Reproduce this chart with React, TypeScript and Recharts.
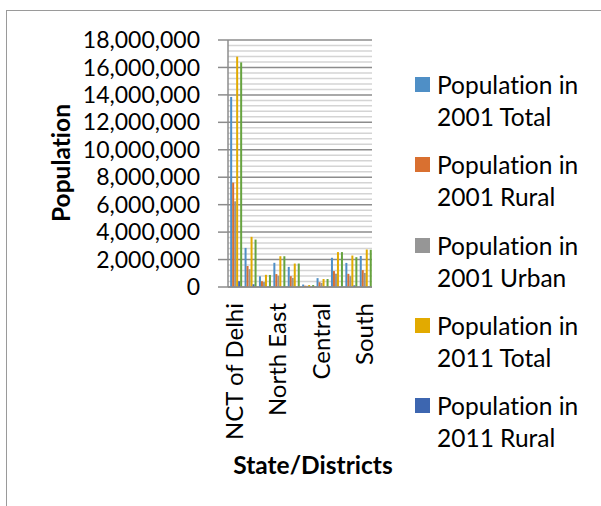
import React from 'react';
import { BarChart, Bar, XAxis, YAxis, CartesianGrid } from 'recharts';

const categories = ['NCT of Delhi', 'North West', 'North', 'North East', 'East', 'New Delhi', 'Central', 'West', 'South West', 'South'];
const total2001 = [13850507, 2847395, 781525, 1763712, 1463583, 179112, 646385, 2128908, 1755041, 2258367];
const rural2001 = [7607234, 1530000, 420000, 940000, 790000, 95000, 350000, 1160000, 960000, 1230000];
const urban2001 = [6243273, 1300000, 360000, 820000, 670000, 84000, 296000, 970000, 790000, 1030000];
const total2011 = [16787941, 3656539, 887978, 2241624, 1709346, 142004, 582320, 2543243, 2292958, 2731929];
const rural2011 = [419042, 200000, 10000, 0, 0, 0, 0, 0, 120000, 20000];
const urban2011 = [16368899, 3456539, 877978, 2241624, 1709346, 142004, 582320, 2543243, 2172958, 2711929];
const seriesNames = ['Population in 2001 Total', 'Population in 2001 Rural', 'Population in 2001 Urban', 'Population in 2011 Total', 'Population in 2011 Rural', 'Population in 2011 Urban'];
const seriesColors = ['#4F8FC6', '#D97030', '#969696', '#E2AA00', '#3D66B0', '#66A33F'];
const yTicks = [0, 2000000, 4000000, 6000000, 8000000, 10000000, 12000000, 14000000, 16000000, 18000000];
const yMax = 18000000;
const minorStep = 400000;

const seriesArrays = [total2001, rural2001, urban2001, total2011, rural2011, urban2011];
const keys = ['t01', 'r01', 'u01', 't11', 'r11', 'u11'];
const data = categories.map((c, i) => {
  const row: any = { name: c };
  keys.forEach((k, j) => { row[k] = seriesArrays[j][i]; });
  return row;
});
const minorValues: number[] = [];
for (let v = minorStep; v < yMax; v += minorStep) {
  if (v % 2000000 !== 0) minorValues.push(v);
}

const FONT = 'Lato, sans-serif';
const noLig: any = { fontVariantLigatures: 'none', fontFeatureSettings: '"liga" 0, "clig" 0' };

const XTick = (props: any) => {
  const { x, y, payload } = props;
  return (
    <text
      transform={`translate(${x + 8},${y + 8}) rotate(-90)`}
      textAnchor="end"
      fontFamily={FONT}
      fontSize={24}
      fill="#000"
      style={noLig}
    >
      {payload.value}
    </text>
  );
};

const fmt = (v: number) => v.toLocaleString('en-US');

const minorGen = (props: any) => {
  const scale = props?.yAxis?.scale;
  if (typeof scale === 'function') return minorValues.map((v) => scale(v));
  const off = props?.offset;
  if (off && typeof off.top === 'number' && typeof off.height === 'number') {
    return minorValues.map((v) => off.top + off.height * (1 - v / yMax));
  }
  return [];
};

export default function App() {
  return (
    <div style={{ position: 'absolute', left: 0, top: 0, width: 601, height: 506, overflow: 'hidden', background: '#fff' }}>
      <div style={{ position: 'absolute', left: 6, top: 10, width: 700, height: 700, borderTop: '1.5px solid #9a9a9a', borderLeft: '1.5px solid #9a9a9a' }} />
      <div style={{ position: 'absolute', left: 0, top: 0 }}>
        <BarChart
          width={601}
          height={506}
          data={data}
          margin={{ top: 40, right: 229, bottom: 0, left: 0 }}
          barCategoryGap="15%"
          barGap={0}
        >
          <CartesianGrid horizontalCoordinatesGenerator={minorGen} vertical={false} stroke="#d4d4d4" strokeWidth={1.5} />
          <CartesianGrid vertical={false} stroke="#8c8c8c" strokeWidth={1.5} />
          <XAxis
            dataKey="name"
            interval={2}
            tickLine={false}
            axisLine={{ stroke: '#8c8c8c', strokeWidth: 1.5 }}
            tick={<XTick />}
            height={219}
          />
          <YAxis
            width={228}
            domain={[0, yMax]}
            ticks={yTicks}
            interval={0}
            tickFormatter={fmt}
            tickSize={10}
            tickMargin={18}
            tickLine={{ stroke: '#8c8c8c', strokeWidth: 1.5 }}
            axisLine={{ stroke: '#8c8c8c', strokeWidth: 1.5 }}
            tick={{ fontFamily: FONT, fontSize: 23, fill: '#000' }}
          />
          {keys.map((k, j) => (
            <Bar key={k} dataKey={k} name={seriesNames[j]} fill={seriesColors[j]} isAnimationActive={false} />
          ))}
          <text x={60} y={163} transform="rotate(-90 60 163)" textAnchor="middle" dominantBaseline="central" fontFamily={FONT} fontWeight="bold" fontSize={24.5} fill="#000" style={noLig}>Population</text>
          <text x={313} y={464} textAnchor="middle" dominantBaseline="central" fontFamily={FONT} fontWeight="bold" fontSize={24.5} fill="#000" style={noLig}>State/Districts</text>
        </BarChart>
      </div>
      {seriesNames.slice(0, 5).map((n, i) => (
        <div key={n} style={{ position: 'absolute', left: 415, top: 69 + i * 80.3, fontFamily: FONT, fontSize: 24.5, lineHeight: '32px', color: '#000', ...noLig }}>
          <div style={{ position: 'absolute', left: 0, top: 8, width: 15, height: 15, background: seriesColors[i] }} />
          <div style={{ position: 'absolute', left: 22, top: 0, width: 180, whiteSpace: 'nowrap' }}>
            {n.replace(/ (\d{4} .*)$/, '')}<br />{n.match(/\d{4} .*$/)?.[0]}
          </div>
        </div>
      ))}
    </div>
  );
}
